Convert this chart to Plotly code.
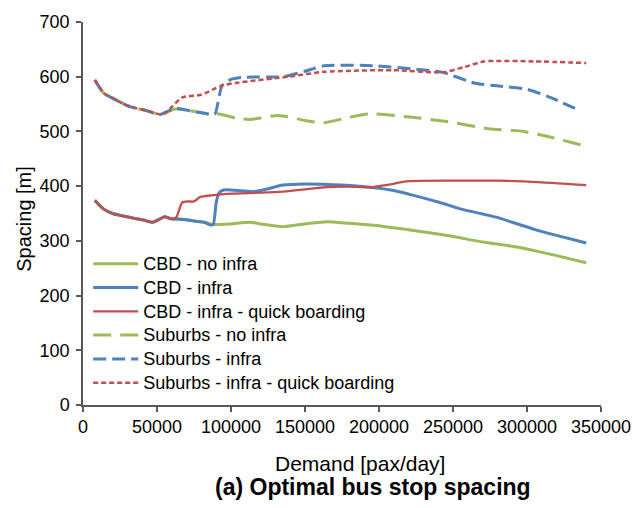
import plotly.graph_objects as go

# ---------------- data ----------------
cbd_noinfra_x = [8000, 14000, 20000, 28000, 35000, 41000, 47000, 52000, 55000, 60000, 64000, 68000,
                 76000, 82000, 87000, 92000, 100000, 113000, 120000, 135000, 150000, 165000, 180000,
                 198000, 215000, 234000, 250000, 270000, 290000, 300000, 320000, 340000]
cbd_noinfra_y = [374, 358, 350, 345, 341, 338, 334, 340, 344, 340, 340, 339,
                 336, 334, 330, 330, 331, 334, 331, 326, 331, 335, 332,
                 328, 322, 315, 308, 298, 290, 285, 273, 260]

cbd_infra_x = [8000, 14000, 20000, 28000, 35000, 41000, 47000, 52000, 55000, 60000, 64000, 68000,
               76000, 82000, 86000, 88000, 90000, 92000, 95000, 100000, 110000, 116000, 125000,
               135000, 150000, 175000, 194000, 210000, 222000, 240000, 257000, 270000, 281000,
               290000, 305000, 320000, 340000]
cbd_infra_y = [374, 358, 350, 345, 341, 338, 334, 340, 344, 340, 340, 339,
               336, 334, 329, 330, 370, 388, 393, 393, 391, 390, 395,
               402, 404, 402, 398, 392, 384, 371, 357, 349, 342,
               334, 321, 310, 296]

cbd_quick_x = [8000, 14000, 20000, 28000, 35000, 41000, 47000, 52000, 55000, 60000, 63000, 67000,
               71000, 75000, 79000, 83000, 97000, 120000, 135000, 150000, 163000, 180000, 194000,
               205000, 220000, 250000, 281000, 310000, 340000]
cbd_quick_y = [374, 358, 350, 345, 341, 338, 334, 340, 344, 340, 343, 370,
               372, 372, 380, 382, 386, 388, 390, 394, 398, 399, 398,
               402, 409, 410, 410, 407, 402]

sub_noinfra_x = [8000, 14000, 22000, 31000, 43000, 52000, 62000, 68000, 78000, 85000, 92000, 104000,
                 113000, 132000, 150000, 163000, 180000, 194000, 222000, 246000, 274000, 295000,
                 312000, 340000]
sub_noinfra_y = [594, 570, 558, 546, 538, 531, 541, 540, 535, 532, 532, 524,
                 522, 529, 520, 516, 526, 532, 526, 518, 505, 501,
                 492, 473]

sub_infra_x = [8000, 14000, 22000, 31000, 43000, 52000, 62000, 68000, 78000, 85000, 89000, 94000,
               100000, 109000, 135000, 150000, 163000, 198000, 224000, 243000, 265000, 281000,
               300000, 314000, 336000]
sub_infra_y = [594, 570, 558, 546, 538, 531, 542, 540, 535, 532, 531, 584,
               595, 599, 600, 610, 620, 620, 614, 608, 588, 583,
               577, 564, 538]

sub_quick_x = [8000, 14000, 22000, 31000, 43000, 52500, 56000, 60000, 67000, 80000, 88000, 94000,
               104000, 139000, 163000, 210000, 243000, 258000, 271000, 305000, 340000]
sub_quick_y = [594, 570, 558, 546, 538, 531, 534, 545, 562, 567, 577, 584,
               589, 600, 609, 612, 608, 618, 628, 628, 625]

names = ["CBD - no infra", "CBD - infra", "CBD - infra - quick boarding",
         "Suburbs - no infra", "Suburbs - infra", "Suburbs - infra - quick boarding"]

x_ticks = [0, 50000, 100000, 150000, 200000, 250000, 300000, 350000]
y_ticks = [0, 100, 200, 300, 400, 500, 600, 700]

# ---------------- styling ----------------
GREEN = "#9BBB59"
BLUE = "#4F81BD"
RED = "#C0504D"
FONT = "Liberation Sans, Arial, sans-serif"
AXIS = "#595959"

series = [
    (cbd_noinfra_x, cbd_noinfra_y, GREEN, 3, "solid"),
    (cbd_infra_x, cbd_infra_y, BLUE, 3, "solid"),
    (cbd_quick_x, cbd_quick_y, RED, 2.3, "solid"),
    (sub_noinfra_x, sub_noinfra_y, GREEN, 3, "18px,9px"),
    (sub_infra_x, sub_infra_y, BLUE, 3, "13px,6px"),
    (sub_quick_x, sub_quick_y, RED, 2.5, "5px,3px"),
]

fig = go.Figure()
for i, (xs, ys, col, w, dash) in enumerate(series):
    fig.add_trace(go.Scatter(
        x=xs, y=ys, mode="lines",
        name="<span style='font-size:18px'>" + names[i] + "</span>",
        legendgroup=str(i),
        line=dict(color=col, width=w, dash=dash, shape="spline", smoothing=0.6),
    ))

axis_common = dict(
    showgrid=False, zeroline=False, showline=True, linecolor=AXIS, linewidth=1.5,
    ticks="outside", ticklen=5, tickcolor=AXIS, tickwidth=1.5,
    tickfont=dict(family=FONT, size=18, color="black"),
    ticklabeloverflow="allow",
)

fig.update_layout(
    width=643, height=508,
    margin=dict(l=83, r=30, t=15, b=103),
    paper_bgcolor="white", plot_bgcolor="white",
    font=dict(family=FONT, color="black"),
    showlegend=True,
    legend=dict(
        x=0.01, y=0.413, xanchor="left", yanchor="top",
        bgcolor="rgba(0,0,0,0)", borderwidth=0,
        font=dict(family=FONT, size=16, color="black"),
        tracegroupgap=0, itemwidth=45,
    ),
    xaxis=dict(range=[0, 350000], tickvals=x_ticks, ticktext=[str(v) for v in x_ticks], **axis_common),
    yaxis=dict(range=[0, 700], tickvals=y_ticks, ticktext=[str(v) for v in y_ticks],
               ticklabelstandoff=3, **axis_common),
)

fig.add_annotation(text="Demand [pax/day]", xref="paper", yref="paper",
                   x=(366 - 83) / 530, y=(405 - 465) / 390, xanchor="center", yanchor="middle",
                   showarrow=False, font=dict(family=FONT, size=21, color="black"))
fig.add_annotation(text="<b>(a) Optimal bus stop spacing</b>", xref="paper", yref="paper",
                   x=(380 - 83) / 530, y=(405 - 488) / 390, xanchor="center", yanchor="middle",
                   showarrow=False, font=dict(family=FONT, size=23, color="black"))
fig.add_annotation(text="Spacing [m]", xref="paper", yref="paper", textangle=-90,
                   x=(23 - 83) / 530, y=(405 - 215) / 390, xanchor="center", yanchor="middle",
                   showarrow=False, font=dict(family=FONT, size=20, color="black"))

fig.write_html("out.html", config={"displayModeBar": False},
               post_script="document.body.style.margin='0';document.body.style.overflow='hidden';")
